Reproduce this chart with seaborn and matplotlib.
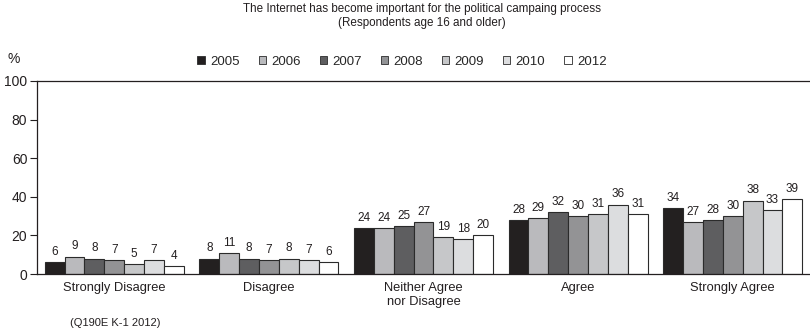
import matplotlib
matplotlib.use("Agg")
import matplotlib.pyplot as plt
from matplotlib.patches import Patch
import seaborn as sns
import pandas as pd

categories = ["Strongly Disagree", "Disagree", "Neither Agree\nnor Disagree", "Agree", "Strongly Agree"]
years = ["2005", "2006", "2007", "2008", "2009", "2010", "2012"]
v2005 = [6, 8, 24, 28, 34]
v2006 = [9, 11, 24, 29, 27]
v2007 = [8, 8, 25, 32, 28]
v2008 = [7, 7, 27, 30, 30]
v2009 = [5, 8, 19, 31, 38]
v2010 = [7, 7, 18, 36, 33]
v2012 = [4, 6, 20, 31, 39]
yticks = [0, 20, 40, 60, 80, 100]

colors = ["#231f20", "#b9babd", "#5e5e60", "#929396", "#c6c7c9", "#dcdddf", "#ffffff"]
ink = "#231f20"

series = [v2005, v2006, v2007, v2008, v2009, v2010, v2012]
rows = []
for yr, vals in zip(years, series):
    for cat, v in zip(categories, vals):
        rows.append({"category": cat, "year": yr, "value": v})
df = pd.DataFrame(rows)

sns.set_style("white")
plt.rcParams["font.family"] = ["Liberation Sans", "DejaVu Sans"]

fig = plt.figure(figsize=(8.1, 3.32), dpi=100)
ax = fig.add_axes([37 / 810, 1 - 274 / 332, 1 - 37 / 810, (274 - 81) / 332])

sns.barplot(data=df, x="category", y="value", hue="year", order=categories,
            hue_order=years, palette=colors, width=0.9, gap=0.0,
            edgecolor="#2b2b2b", linewidth=0.8, legend=False, ax=ax)

for cont in ax.containers:
    ax.bar_label(cont, fmt="%d", padding=3, fontsize=8.5, color=ink)

ax.set_xlim(-0.5, 4.5)
ax.set_ylim(0, 100)
ax.set_yticks(yticks)
ax.set_yticklabels([str(t) for t in yticks], fontsize=10)
ax.tick_params(axis="y", length=5, width=0.8, direction="out", left=True, pad=2, colors=ink)
ax.tick_params(axis="x", length=0, labelsize=9.3, pad=6, colors=ink)
ax.set_xlabel("")
ax.set_ylabel("")
for side in ["left", "bottom", "top"]:
    ax.spines[side].set_visible(True)
    ax.spines[side].set_color(ink)
    ax.spines[side].set_linewidth(0.9)
ax.spines["right"].set_visible(False)

# legend row of small squares above the plot
handles = [Patch(facecolor=c, edgecolor="#2b2b2b", linewidth=0.6, label=y) for c, y in zip(colors, years)]
fig.legend(handles=handles, loc="center", bbox_to_anchor=(402 / 810, 1 - 62 / 332), ncol=7,
           frameon=False, fontsize=9.5, handlelength=0.55, handleheight=0.55,
           handletextpad=0.4, columnspacing=1.45, borderpad=0)

fig.text(422 / 810, 1 - 9 / 332, "The Internet has become important for the political campaing process",
         ha="center", va="center", fontsize=8.4, color=ink)
fig.text(422 / 810, 1 - 23 / 332, "(Respondents age 16 and older)",
         ha="center", va="center", fontsize=8.4, color=ink)
fig.text(14 / 810, 1 - 59 / 332, "%", ha="center", va="center", fontsize=10, color=ink)
fig.text(115 / 810, 1 - 323 / 332, "(Q190E K-1 2012)", ha="center", va="center", fontsize=8, color=ink)

fig.savefig("out.png", dpi=100)
